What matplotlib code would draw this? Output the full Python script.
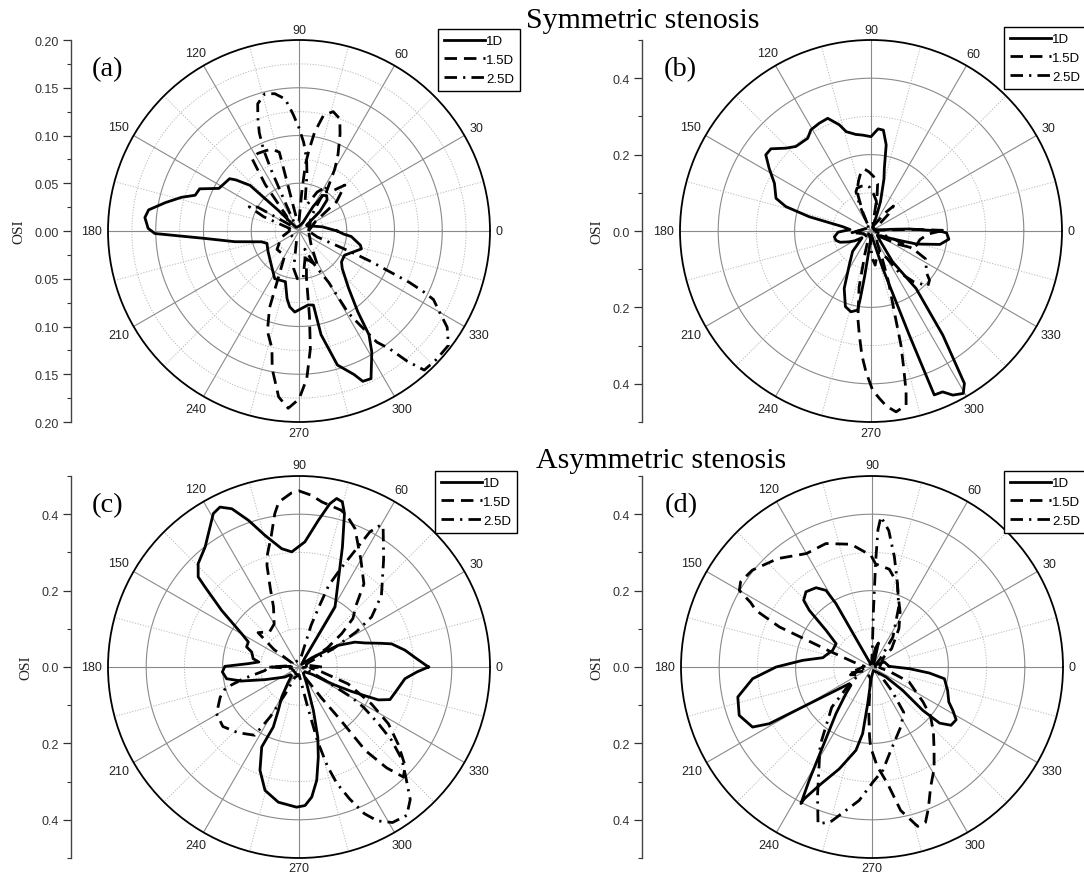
import numpy as np
import matplotlib
matplotlib.use("Agg")
import matplotlib.pyplot as plt
from matplotlib.ticker import MultipleLocator, FuncFormatter

# ---------------- data (theta in degrees, OSI radius) ----------------
# (a) symmetric, 1D
a_1D_theta = [0, 10, 20, 30, 38, 43, 48, 52, 56, 60, 65, 90, 130, 135, 137, 141, 143, 152, 157, 161,
              164, 168, 172, 175, 179, 181, 184.5, 189.5, 196, 201, 214, 234, 243, 255, 260, 263, 267, 277, 281, 282,
              286, 291, 293, 296, 301, 304, 306, 311, 319, 324, 332, 344, 347, 354, 356]
a_1D_r = [0.040, 0.025, 0.015, 0.010, 0.010, 0.030, 0.044, 0.047, 0.045, 0.030, 0.010, 0.005, 0.005, 0.030, 0.070, 0.085, 0.091, 0.095, 0.113, 0.115,
          0.128, 0.143, 0.159, 0.162, 0.158, 0.151, 0.099, 0.068, 0.041, 0.036, 0.039, 0.048, 0.056, 0.055, 0.072, 0.080, 0.085, 0.078, 0.079, 0.111,
          0.146, 0.161, 0.171, 0.172, 0.148, 0.131, 0.105, 0.079, 0.060, 0.055, 0.054, 0.068, 0.066, 0.055, 0.047]
# (a) symmetric, 1.5D
a_15D_theta = [0, 30, 38, 45, 50, 55, 60, 63, 67, 70, 74, 78, 81, 83, 84.5, 86, 90, 100, 104, 108,
               112, 118, 123, 126, 130, 180, 200, 220, 240, 249, 252.5, 257, 259, 263, 266.5, 270, 273, 275.5, 277, 279,
               285, 298, 310]
a_15D_r = [0.010, 0.020, 0.050, 0.068, 0.055, 0.050, 0.075, 0.090, 0.110, 0.125, 0.130, 0.124, 0.105, 0.085, 0.070, 0.040, 0.010, 0.010, 0.085, 0.090,
           0.091, 0.092, 0.090, 0.060, 0.020, 0.010, 0.020, 0.030, 0.030, 0.086, 0.110, 0.126, 0.147, 0.175, 0.186, 0.176, 0.155, 0.124, 0.090, 0.050,
           0.030, 0.042, 0.020]
# (a) symmetric, 2.5D
a_25D_theta = [0, 50, 58, 65, 72, 78, 82, 84, 87, 90, 93, 96, 100, 104, 108, 110, 112, 113.5, 114.5, 116,
               120, 145, 150, 154, 158, 165, 200, 255, 262, 268, 275, 282, 288, 295, 300, 301, 303, 305, 307.6, 309.7,
               312, 317, 322.6, 327, 330, 333, 334, 335, 336, 337, 338, 339, 342]
a_25D_r = [0.010, 0.020, 0.055, 0.045, 0.030, 0.030, 0.060, 0.076, 0.093, 0.108, 0.123, 0.139, 0.146, 0.148, 0.140, 0.126, 0.111, 0.094, 0.070, 0.030,
           0.010, 0.010, 0.050, 0.058, 0.040, 0.010, 0.010, 0.010, 0.040, 0.050, 0.050, 0.030, 0.020, 0.040, 0.062, 0.100, 0.118, 0.142, 0.156, 0.177,
           0.196, 0.197, 0.197, 0.185, 0.170, 0.158, 0.145, 0.128, 0.100, 0.082, 0.060, 0.040, 0.020]

# (b) symmetric, 1D
b_1D_theta = [0, 1.5, 3, 5, 10, 40, 65, 70, 72, 76, 78, 80, 83, 86, 90, 95, 99, 104, 106.6, 111,
              115.6, 120.7, 124.3, 131.6, 135.8, 140.6, 144.1, 148.4, 153.7, 161, 164, 167, 171.3, 176, 182, 189, 195, 200, 206, 211,
              218, 228, 237.5, 245, 251.3, 256, 260.4, 261, 262, 264, 275, 287.4, 290.2, 291.1, 294, 296.5, 299.6, 301.5, 304.6, 308.1,
              305, 315, 325, 335, 340, 344, 349, 354, 358.5]
b_1D_r = [0.180, 0.130, 0.100, 0.050, 0.010, 0.010, 0.010, 0.040, 0.080, 0.140, 0.168, 0.229, 0.266, 0.268, 0.247, 0.252, 0.256, 0.268, 0.290, 0.316,
          0.313, 0.308, 0.294, 0.296, 0.311, 0.339, 0.340, 0.313, 0.282, 0.263, 0.232, 0.166, 0.075, 0.055, 0.086, 0.097, 0.095, 0.086, 0.065, 0.050,
          0.030, 0.072, 0.106, 0.166, 0.209, 0.218, 0.210, 0.180, 0.120, 0.050, 0.010, 0.102, 0.290, 0.460, 0.461, 0.480, 0.489, 0.468, 0.331, 0.191,
          0.098, 0.030, 0.020, 0.030, 0.062, 0.124, 0.184, 0.205, 0.198]
# (b) symmetric, 1.5D
b_15D_theta = [0.5, 2, 5, 20, 40, 44, 48, 52, 60, 75, 80, 82, 86, 92, 96, 100, 104, 107, 110, 114,
               120, 185, 200, 250, 255, 258, 261.5, 263.6, 265.8, 268, 270.6, 272.9, 275, 277.9, 281.4, 282.3, 283.4, 284.7, 286.1, 289,
               292, 296, 310, 328, 334, 338, 343, 350, 357]
b_15D_r = [0.190, 0.120, 0.030, 0.010, 0.030, 0.064, 0.088, 0.060, 0.020, 0.020, 0.090, 0.125, 0.140, 0.155, 0.163, 0.155, 0.135, 0.120, 0.100, 0.050,
           0.010, 0.050, 0.020, 0.020, 0.060, 0.150, 0.232, 0.274, 0.326, 0.370, 0.417, 0.439, 0.460, 0.478, 0.465, 0.431, 0.370, 0.309, 0.220, 0.140,
           0.080, 0.040, 0.020, 0.030, 0.080, 0.120, 0.125, 0.130, 0.150]
# (b) symmetric, 2.5D
b_25D_theta = [0, 60, 70, 75, 80, 86, 92, 96, 102, 108, 111, 114, 117, 130, 185, 195, 230, 265, 272, 277,
               282, 290, 300, 304, 310, 316, 320, 323, 328, 333, 337, 341, 345]
b_25D_r = [0.010, 0.010, 0.030, 0.060, 0.080, 0.097, 0.115, 0.120, 0.120, 0.118, 0.110, 0.070, 0.020, 0.010, 0.050, 0.020, 0.010, 0.020, 0.070, 0.090,
           0.070, 0.060, 0.080, 0.130, 0.173, 0.207, 0.200, 0.182, 0.170, 0.160, 0.120, 0.060, 0.020]

# (c) asymmetric, 1D
c_1D_theta = [0, 4, 9, 14, 16, 20, 24, 28.8, 32, 36, 45, 57, 59, 65.6, 70.1, 73.5, 75.3, 77.4, 79.3, 82.5,
              87.3, 93.6, 98.3, 104.5, 109, 113, 116.3, 119.2, 124.2, 128, 134.3, 138.2, 139.6, 143.8, 149.8, 153.7, 159, 162.4, 169.7, 172.9,
              176.2, 179.5, 183.7, 189.2, 193.7, 200.4, 215.5, 222, 230, 235, 240, 244.5, 246.8, 245, 249.3, 254.6, 261.3, 269, 272.5, 275.6,
              278.9, 282.1, 285, 288.3, 294.7, 305, 320, 331, 333, 335, 336.5, 337.5, 340.3, 346.6, 353.7, 357.6]
c_1D_r = [0.339, 0.309, 0.281, 0.250, 0.225, 0.184, 0.160, 0.118, 0.070, 0.040, 0.010, 0.030, 0.183, 0.249, 0.334, 0.419, 0.447, 0.452, 0.435, 0.387,
          0.328, 0.302, 0.313, 0.356, 0.406, 0.450, 0.467, 0.460, 0.422, 0.399, 0.378, 0.354, 0.323, 0.251, 0.174, 0.148, 0.147, 0.130, 0.122, 0.106,
          0.133, 0.194, 0.201, 0.192, 0.155, 0.095, 0.045, 0.030, 0.030, 0.050, 0.090, 0.126, 0.171, 0.231, 0.289, 0.335, 0.358, 0.367, 0.363, 0.342,
          0.300, 0.241, 0.190, 0.120, 0.048, 0.020, 0.020, 0.040, 0.100, 0.150, 0.190, 0.225, 0.253, 0.263, 0.279, 0.309]
# (c) asymmetric, 1.5D
c_15D_theta = [0, 15, 30, 34, 38, 42, 47, 52, 60, 68, 72.5, 75, 82, 86, 90, 92.5, 97, 99, 102, 105.5,
               107.5, 110, 113, 120, 130, 140, 145, 150, 170, 180, 190, 250, 300, 306, 308, 308.5, 311, 313.5, 317, 322,
               327.6, 333, 341, 348, 355]
c_15D_r = [0.060, 0.020, 0.020, 0.090, 0.142, 0.190, 0.218, 0.276, 0.324, 0.391, 0.416, 0.425, 0.436, 0.451, 0.461, 0.456, 0.435, 0.406, 0.350, 0.308,
           0.279, 0.220, 0.171, 0.130, 0.120, 0.140, 0.080, 0.020, 0.020, 0.080, 0.020, 0.020, 0.030, 0.100, 0.170, 0.280, 0.350, 0.397, 0.380, 0.330,
           0.277, 0.213, 0.136, 0.060, 0.030]
# (c) asymmetric, 2.5D
c_25D_theta = [0, 20, 25, 28, 31.5, 34.6, 41, 52, 58.7, 60, 62.3, 67, 70, 71.5, 73.8, 75, 80, 150, 175, 180,
               186, 192, 196, 201, 209.5, 218, 227, 237, 240, 243, 248, 270, 278, 282, 284, 286, 288, 291, 294, 297,
               301, 306, 310, 314, 318, 321.6, 324.5, 328, 330, 333, 338, 350]
c_25D_r = [0.020, 0.020, 0.030, 0.100, 0.175, 0.231, 0.286, 0.360, 0.424, 0.430, 0.400, 0.280, 0.227, 0.170, 0.114, 0.060, 0.020, 0.020, 0.020, 0.080,
           0.090, 0.150, 0.200, 0.221, 0.248, 0.253, 0.235, 0.213, 0.150, 0.080, 0.030, 0.020, 0.040, 0.100, 0.200, 0.270, 0.320, 0.370, 0.420, 0.452,
           0.475, 0.480, 0.453, 0.403, 0.363, 0.310, 0.255, 0.200, 0.159, 0.077, 0.030, 0.010]

# (d) asymmetric, 1D
d_1D_theta = [2.2, 22, 30, 60, 75, 80, 90, 115, 119, 119.5, 119.6, 121, 125.2, 131.3, 135.7, 137.9, 141.4, 147, 157.4, 163,
              169.3, 174.5, 180, 185.6, 192.6, 200, 206.7, 208.9, 209.7, 211.3, 216.3, 221, 225.7, 232.3, 238.3, 241, 242.5, 242.8, 246, 252.2,
              259.1, 262, 263.3, 266, 290, 315, 324.5, 322.7, 319.5, 320.3, 323.6, 327.9, 331.8, 335.5, 342.9, 350.8, 354, 357.4]
d_1D_r = [0.045, 0.035, 0.010, 0.010, 0.065, 0.050, 0.010, 0.010, 0.050, 0.120, 0.191, 0.234, 0.254, 0.262, 0.250, 0.221, 0.154, 0.112, 0.112, 0.120,
          0.131, 0.182, 0.251, 0.314, 0.360, 0.370, 0.350, 0.307, 0.229, 0.151, 0.074, 0.073, 0.098, 0.154, 0.246, 0.339, 0.403, 0.388, 0.339, 0.280,
          0.222, 0.176, 0.097, 0.030, 0.010, 0.020, 0.045, 0.101, 0.175, 0.230, 0.257, 0.260, 0.240, 0.221, 0.207, 0.192, 0.151, 0.098]
# (d) asymmetric, 1.5D
d_15D_theta = [0, 40, 43, 55, 63, 70, 73, 80, 88, 90.5, 99.7, 110.5, 120, 131, 141, 147, 150, 152, 154, 156.6,
               157.5, 159.4, 165, 175, 195, 210, 262, 266, 268, 269, 273, 277.6, 281.3, 286, 289, 291.7, 296, 301.4, 307, 313.4,
               320, 325.6, 331, 338, 345, 355]
d_15D_r = [0.020, 0.040, 0.070, 0.123, 0.162, 0.200, 0.228, 0.260, 0.270, 0.292, 0.326, 0.345, 0.343, 0.376, 0.403, 0.410, 0.401, 0.360, 0.338, 0.264,
           0.187, 0.121, 0.050, 0.020, 0.060, 0.020, 0.030, 0.120, 0.183, 0.210, 0.260, 0.308, 0.383, 0.434, 0.430, 0.399, 0.350, 0.312, 0.270, 0.234,
           0.200, 0.162, 0.130, 0.105, 0.050, 0.020]
# (d) asymmetric, 2.5D
d_25D_theta = [0, 30, 45, 55, 66, 73, 78.5, 83, 86.6, 87.5, 88, 88.6, 89, 95, 190, 200, 210, 219, 225, 236.5,
               247, 251, 255, 264.5, 270.5, 276, 282, 295.6, 305, 310, 315, 330]
d_25D_r = [0.010, 0.010, 0.030, 0.095, 0.172, 0.228, 0.294, 0.360, 0.394, 0.360, 0.280, 0.140, 0.050, 0.010, 0.020, 0.060, 0.040, 0.083, 0.149, 0.246,
           0.365, 0.434, 0.420, 0.351, 0.301, 0.272, 0.228, 0.174, 0.145, 0.080, 0.030, 0.010]

series_labels = ["1D", "1.5D", "2.5D"]
angle_labels = [str(d) for d in range(0, 360, 30)]
panel_letters = ["(a)", "(b)", "(c)", "(d)"]
row_titles = ["Symmetric stenosis", "Asymmetric stenosis"]

# ---------------- figure ----------------
W, H = 1084, 879
fig = plt.figure(figsize=(W / 100, H / 100), dpi=100)
R = 191.0
SANS = ["Liberation Sans", "DejaVu Sans"]
SERIF = ["Liberation Serif", "DejaVu Serif"]
LW = 2.0
STYLES = ["-", (0, (4.5, 2.5)), (0, (4.5, 2.2, 0.8, 2.2))]
MAJ_COL, MIN_COL = "#8a8a8a", "#b8b8b8"
LABEL_PT = 9


def fx(x):
    return x / W


def fy(y):
    return 1 - y / H


def panel(cx, cy, rmax, major_step, minor_step, fmt, curves, axis_x, letter, legend_xy):
    ax = fig.add_axes([fx(cx - R), fy(cy + R), 2 * R / W, 2 * R / H], projection="polar")
    ax.set_ylim(0, rmax)
    ax.set_xticks([])
    ax.set_yticks([])
    ax.grid(False)
    ax.spines["polar"].set_color("black")
    ax.spines["polar"].set_linewidth(1.3)
    full = np.linspace(0, 2 * np.pi, 721)
    # rings
    n_minor = int(round(rmax / minor_step))
    for k in range(1, n_minor):
        rc = k * minor_step
        if abs(rc / major_step - round(rc / major_step)) < 1e-6:
            ax.plot(full, np.full_like(full, rc), color=MAJ_COL, lw=0.8, zorder=1)
        else:
            ax.plot(full, np.full_like(full, rc), color=MIN_COL, lw=0.7, ls=(0, (1.2, 1.6)), zorder=1)
    # spokes
    for deg in range(0, 360, 30):
        th = np.deg2rad(deg)
        ax.plot([th, th], [0, rmax], color=MAJ_COL, lw=0.8, zorder=1)
    for deg in range(15, 360, 30):
        th = np.deg2rad(deg)
        ax.plot([th, th], [minor_step, rmax], color=MIN_COL, lw=0.7, ls=(0, (1.2, 1.6)), zorder=1)
    # angle labels
    for deg, lab in zip(range(0, 360, 30), angle_labels):
        th = np.deg2rad(deg)
        w = 6.9 * len(lab)
        h = 9.0
        off = 6 + 0.5 * w * abs(np.cos(th)) + 0.5 * h * abs(np.sin(th))
        ax.annotate(lab, xy=(th, rmax), xytext=(off * np.cos(th), off * np.sin(th)),
                    textcoords="offset pixels", ha="center", va="center",
                    fontsize=LABEL_PT, family=SANS, color="#222222", annotation_clip=False)
    # curves
    handles = []
    for (t, r), ls in zip(curves, STYLES):
        assert len(t) == len(r)
        t = np.deg2rad(np.r_[t, t[0]])
        r = np.r_[r, r[0]]
        ln, = ax.plot(t, r, color="black", lw=LW, ls=ls, zorder=3, clip_on=False,
                      solid_joinstyle="round")
        handles.append(ln)
    leg = ax.legend(handles, series_labels, loc="upper left",
                    bbox_to_anchor=(fx(legend_xy[0]), fy(legend_xy[1])),
                    bbox_transform=fig.transFigure, fancybox=False, edgecolor="black",
                    framealpha=1, prop={"family": SANS, "size": 9.5}, handlelength=3.1,
                    handletextpad=0.12, labelspacing=0.5, borderpad=0.45, borderaxespad=0)
    leg.get_frame().set_linewidth(1.0)
    leg.set_zorder(10)

    # vertical OSI axis
    vax = fig.add_axes([fx(axis_x), fy(cy + R), 0.0005, 2 * R / H])
    vax.patch.set_visible(False)
    vax.set_ylim(-rmax, rmax)
    vax.set_xticks([])
    for s in ("top", "right", "bottom"):
        vax.spines[s].set_visible(False)
    vax.spines["left"].set_color("#444444")
    vax.spines["left"].set_linewidth(1.0)
    vax.yaxis.set_major_locator(MultipleLocator(major_step))
    vax.yaxis.set_minor_locator(MultipleLocator(minor_step))
    vax.yaxis.set_major_formatter(FuncFormatter(lambda v, p: fmt.format(abs(v))))
    vax.tick_params(axis="y", which="major", length=6, width=0.9, direction="out",
                    labelsize=LABEL_PT, colors="#333333", pad=3)
    vax.tick_params(axis="y", which="minor", length=3, width=0.8, direction="out", colors="#333333")
    for tl in vax.get_yticklabels():
        tl.set_family(SANS)
    vax.set_ylabel("OSI", family=SERIF, fontsize=11, labelpad=6, color="#222222")

    fig.text(fx(cx - 207), fy(cy - 162), letter, family=SERIF, fontsize=20.5,
             ha="left", va="center")
    return ax


panel(299, 232, 0.2, 0.05, 0.025, "{:.2f}",
      [(a_1D_theta, a_1D_r), (a_15D_theta, a_15D_r), (a_25D_theta, a_25D_r)],
      71, panel_letters[0], (438, 30))
panel(871, 232, 0.5, 0.2, 0.1, "{:.1f}",
      [(b_1D_theta, b_1D_r), (b_15D_theta, b_15D_r), (b_25D_theta, b_25D_r)],
      642, panel_letters[1], (1004, 28))
panel(299, 668, 0.5, 0.2, 0.1, "{:.1f}",
      [(c_1D_theta, c_1D_r), (c_15D_theta, c_15D_r), (c_25D_theta, c_25D_r)],
      71, panel_letters[2], (435, 472))
panel(872, 668, 0.5, 0.2, 0.1, "{:.1f}",
      [(d_1D_theta, d_1D_r), (d_15D_theta, d_15D_r), (d_25D_theta, d_25D_r)],
      642, panel_letters[3], (1004, 472))

fig.text(fx(643), fy(28), row_titles[0], family=SERIF, fontsize=21.5, ha="center", va="baseline")
fig.text(fx(661), fy(468), row_titles[1], family=SERIF, fontsize=21.5, ha="center", va="baseline")

fig.savefig("out.png", dpi=100)
